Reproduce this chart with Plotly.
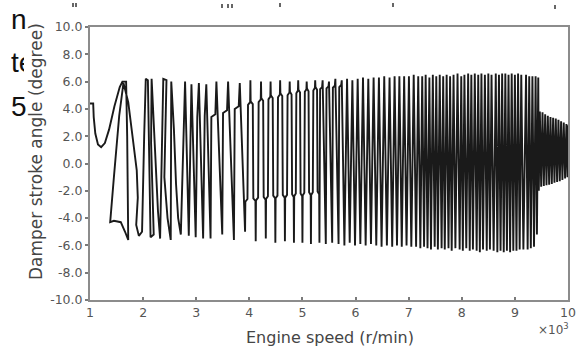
import plotly.graph_objects as go

# ---- data (engine speed in 10^3 r/min, damper stroke angle in degree)
# low-speed part (irregular loops)
speed_low = [
    1.00, 1.06, 1.07, 1.10, 1.15, 1.21, 1.28, 1.36, 1.46, 1.56, 1.61, 1.68, 1.70, 1.72, 1.66, 1.58,
    1.45, 1.38, 1.45, 1.55, 1.63, 1.72, 1.80, 1.88, 1.90, 1.87, 1.92, 1.98, 2.02, 2.05, 2.09, 2.11,
    2.14, 2.20, 2.15, 2.16, 2.20, 2.24, 2.28, 2.32, 2.35, 2.38, 2.44, 2.42, 2.40, 2.46, 2.52, 2.53,
    2.58, 2.62, 2.66, 2.71, 2.76, 2.79, 2.86, 2.89, 2.91, 2.99, 3.02, 3.05, 3.13, 3.16, 3.19,
]
angle_low = [
    4.40, 4.40, 3.40, 2.20, 1.40, 1.20, 1.50, 2.50, 4.20, 5.60, 6.00, 6.00, 2.00, -5.60, -5.00, -4.30,
    -4.20, -4.30, -1.00, 3.50, 5.90, 4.50, 2.00, -0.50, -2.50, -4.50, -5.30, -5.00, 2.00, 6.20, 6.10, 0.00,
    -5.40, -5.20, 1.50, 6.20, 3.00, 0.00, -3.50, -5.50, 0.00, 6.20, 6.10, 2.00, -1.00, -4.00, -5.60, 6.00,
    2.50, -1.50, -4.00, -5.20, 3.00, 6.00, -5.30, 3.20, 5.80, -5.40, 3.40, 5.90, -5.50, 3.50, 5.80,
]
# mid-speed part (regular strokes with upper and lower shoulders)
speed_mid = [
    3.27, 3.285, 3.36, 3.38, 3.49, 3.505, 3.58, 3.60, 3.71, 3.725, 3.80, 3.82, 3.92,
    3.925, 3.965, 3.975, 4.015, 4.02, 4.025, 4.065, 4.075, 4.115, 4.12,
    4.125, 4.165, 4.175, 4.215, 4.22, 4.225, 4.26, 4.27, 4.305, 4.31,
    4.315, 4.35, 4.36, 4.395, 4.40, 4.405, 4.44, 4.45, 4.485, 4.49,
    4.495, 4.53, 4.54, 4.575, 4.58, 4.585, 4.62, 4.63, 4.665, 4.67,
    4.675, 4.71, 4.72, 4.755, 4.76, 4.765, 4.795, 4.805, 4.835, 4.84,
    4.845, 4.875, 4.885, 4.915, 4.92, 4.925, 4.955, 4.965, 4.995, 5.00,
    5.005, 5.035, 5.045, 5.075, 5.08, 5.085, 5.115, 5.125, 5.155, 5.16,
    5.165, 5.195, 5.205, 5.235, 5.24, 5.245, 5.275, 5.285, 5.315, 5.32,
    5.333, 5.37, 5.38, 5.44, 5.453, 5.49, 5.50, 5.56, 5.573, 5.61, 5.62, 5.68, 5.693, 5.73, 5.74,
]
angle_mid = [
    -5.50, 3.40, 3.60, 6.00, -5.20, 3.70, 3.90, 6.00, -5.60, 4.00, 4.20, 5.90, -5.00,
    -2.80, -2.60, 4.30, 4.50, 6.10, 4.55, 4.35, -2.55, -2.75, -5.70,
    -2.70, -2.50, 4.50, 4.70, 6.00, 4.80, 4.60, -2.45, -2.65, -5.50,
    -2.60, -2.40, 4.70, 4.90, 6.00, 5.00, 4.80, -2.35, -2.55, -5.80,
    -2.55, -2.35, 4.85, 5.05, 6.10, 5.15, 4.95, -2.30, -2.50, -5.70,
    -2.50, -2.30, 5.00, 5.20, 6.00, 5.25, 5.05, -2.25, -2.45, -5.80,
    -2.40, -2.20, 5.15, 5.35, 6.10, 5.40, 5.20, -2.20, -2.40, -5.80,
    -2.35, -2.15, 5.25, 5.45, 6.00, 5.50, 5.30, -2.10, -2.30, -5.90,
    -2.30, -2.10, 5.35, 5.55, 6.10, 5.60, 5.40, -2.05, -2.25, -5.80,
    5.45, 5.60, 6.10, -5.90, 5.50, 5.65, 6.00, -5.80, 5.55, 5.70, 6.20, -5.90, 5.60, 5.75, 6.10,
]
# 5.8-7.2 thousand r/min
speed_c = [
    5.79, 5.84, 5.89, 5.94, 5.99, 6.04, 6.09, 6.14, 6.19, 6.24, 6.29, 6.34, 6.39, 6.44, 6.49, 6.54,
    6.59, 6.64, 6.69, 6.735, 6.78, 6.825, 6.87, 6.915, 6.96, 7.005, 7.05, 7.095, 7.14, 7.18,
]
angle_c = [
    -6.00, 6.20, -5.80, 6.10, -6.00, 6.20, -5.90, 6.30, -6.00, 6.20, -5.90, 6.30, -6.00, 6.30, -6.10, 6.40,
    -6.00, 6.30, -6.10, 6.40, -6.00, 6.40, -6.10, 6.40, -6.00, 6.40, -6.10, 6.50, -6.10, 6.40,
]
# high-speed part (dense strokes)
speed_high = [
    7.22, 7.255, 7.29, 7.32, 7.355, 7.39, 7.42, 7.455, 7.49, 7.52, 7.55, 7.585, 7.62, 7.65, 7.68, 7.715,
    7.75, 7.78, 7.81, 7.845, 7.88, 7.92, 7.96, 7.99, 8.02, 8.05, 8.085, 8.12, 8.15, 8.18, 8.21, 8.245,
    8.28, 8.31, 8.34, 8.37, 8.40, 8.435, 8.47, 8.50, 8.53, 8.56, 8.60, 8.64, 8.67, 8.70, 8.73, 8.76,
    8.79, 8.82, 8.85, 8.88, 8.91, 8.94, 8.97, 9.00, 9.03, 9.06, 9.09, 9.12, 9.16, 9.21, 9.24, 9.27,
    9.30, 9.33, 9.36, 9.39, 9.415, 9.44, 9.45,
]
angle_high = [
    -6.20, 6.40, -6.10, 6.50, -6.20, 6.30, -6.30, 6.50, -6.10, 6.40, -6.30, 6.50, -6.20, 6.40, -6.30, 6.50,
    -6.20, 6.40, -6.40, 6.50, -6.20, 6.60, -6.30, 6.40, -6.40, 6.50, -6.20, 6.60, -6.40, 6.50, -6.30, 6.60,
    -6.40, 6.50, -6.50, 6.60, -6.30, 6.50, -6.40, 6.60, -6.30, 6.50, -6.40, 6.60, -6.50, 6.50, -6.40, 6.60,
    -6.50, 6.60, -6.40, 6.50, -6.50, 6.60, -6.40, 6.50, -6.40, 6.60, -6.30, 6.50, -6.30, 6.50, -6.30, 6.40,
    -6.20, 6.40, -6.10, 6.40, -5.20, 6.30, -2.00,
]
# top-speed part (reduced amplitude band)
speed_top = [
    9.47, 9.495, 9.52, 9.545, 9.57, 9.595, 9.62, 9.645, 9.67, 9.695, 9.72, 9.745, 9.77, 9.795, 9.82, 9.845,
    9.87, 9.895, 9.92, 9.945, 9.97, 9.99, 10.00,
]
angle_top = [
    3.80, -1.70, 3.75, -1.65, 3.60, -1.60, 3.50, -1.55, 3.40, -1.50, 3.35, -1.40, 3.30, -1.35, 3.20, -1.30,
    3.10, -1.20, 3.00, -1.10, 2.90, -1.00, 2.80,
]

speed = speed_low + speed_mid + speed_c + speed_high + speed_top
angle = angle_low + angle_mid + angle_c + angle_high + angle_top

x_ticks = [1, 2, 3, 4, 5, 6, 7, 8, 9, 10]
y_ticks = [-10, -8, -6, -4, -2, 0, 2, 4, 6, 8, 10]
y_tick_text = ["-10.0", "-8.0", "-6.0", "-4.0", "-2.0", "0.0", "2.0", "4.0", "6.0", "8.0", "10.0"]

W, H = 576, 350
L, R, T, B = 90, 8, 27, 50
PW, PH = W - L - R, H - T - B


def px(xp):
    return (xp - L) / PW


def py(yp):
    return (H - B - yp) / PH


FONT = "DejaVu Sans"

fig = go.Figure(
    go.Scatter(x=speed, y=angle, mode="lines",
               line=dict(color="#1a1a1a", width=1.9), hoverinfo="skip")
)

axis_common = dict(showline=True, mirror=True, linecolor="#8c8c8c", linewidth=2,
                   showgrid=False, zeroline=False, tickcolor="#7a7a7a", ticklen=3, tickwidth=1.5)

fig.update_xaxes(range=[1, 10], tickvals=x_ticks, ticks="inside",
                 tickfont=dict(family=FONT, size=12.5, color="#555555"), **axis_common)
fig.update_yaxes(range=[-10, 10], tickvals=y_ticks, ticktext=y_tick_text, ticks="outside",
                 tickfont=dict(family=FONT, size=12.5, color="#555555"), **axis_common)

ann = []
ann.append(dict(text="Engine speed (r/min)", x=px(330), y=py(337), xref="paper", yref="paper",
                xanchor="center", yanchor="middle", showarrow=False,
                font=dict(family=FONT, size=16, color="#454545")))
# fragments of the surrounding page text (the last one is cut by the picture's edge)
for t, yy, wd in [("n", 19, None), ("5", 107, None), ("te", 63, 13)]:
    a = dict(text=t, x=px(10), y=py(yy), xref="paper", yref="paper",
             xanchor="left", yanchor="middle", showarrow=False, align="left", borderpad=0,
             font=dict(family="Liberation Sans", size=28, color="#111111"))
    if wd:
        a["width"] = wd
    ann.append(a)
ann.append(dict(text="Damper stroke angle (degree)", x=px(36), y=py(152), xref="paper", yref="paper",
                xanchor="center", yanchor="middle", textangle=-90, showarrow=False,
                font=dict(family=FONT, size=17, color="#454545")))
ann.append(dict(text="×10<sup>3</sup>", x=px(553), y=py(329), xref="paper", yref="paper",
                xanchor="center", yanchor="middle", showarrow=False,
                font=dict(family=FONT, size=12, color="#555555")))

shapes = []
for xx, yy in [(73, 5), (76, 5), (222, 6), (228, 6), (232, 6), (280, 5), (393, 5), (555, 7)]:
    shapes.append(dict(type="line", xref="paper", yref="paper", x0=px(xx), x1=px(xx),
                       y0=py(yy + 2), y1=py(yy - 2), line=dict(color="#333333", width=1.5)))

fig.update_layout(width=W, height=H, margin=dict(l=L, r=R, t=T, b=B, autoexpand=False),
                  paper_bgcolor="white", plot_bgcolor="white", showlegend=False,
                  annotations=ann, shapes=shapes)

fig.write_html("out.html")
